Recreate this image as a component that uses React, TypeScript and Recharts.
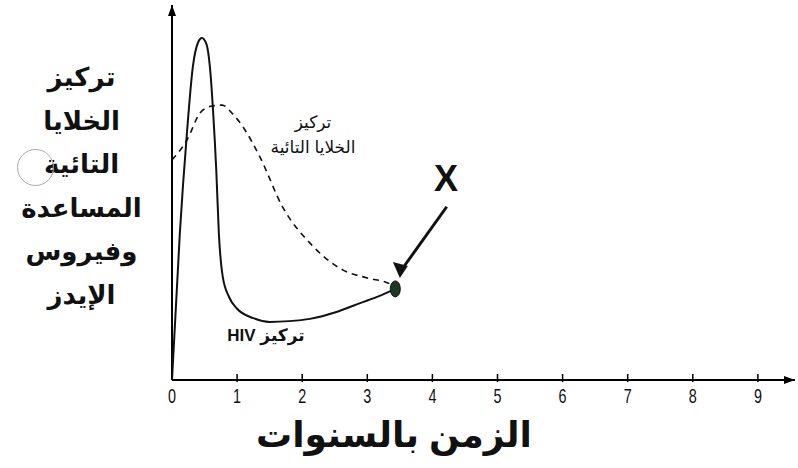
import { LineChart, Line, XAxis, YAxis, ReferenceDot, ReferenceLine } from "recharts";

// time in years / relative concentration
const hivTime = [0, 0.12, 0.23, 0.32, 0.4, 0.46, 0.53, 0.59, 0.63, 0.68, 0.72, 0.78, 0.88, 1.0, 1.25, 1.5, 1.8, 2.12, 2.5, 2.89, 3.2, 3.43];
const hivLevel = [0, 39, 66, 83.5, 90, 91.2, 89.5, 82, 72, 56, 39, 27.5, 22, 19, 16.5, 15.5, 15.7, 16.3, 18, 20.5, 22.5, 24.3];
const tcellTime = [0, 0.23, 0.43, 0.6, 0.77, 0.93, 1.09, 1.35, 1.7, 2.12, 2.63, 3.0, 3.35, 3.43];
const tcellLevel = [58.7, 64, 71.2, 73, 73.3, 71, 67.5, 59.5, 46.1, 36.5, 29.3, 27.2, 25.6, 24.3];
const xTicks = [0, 1, 2, 3, 4, 5, 6, 7, 8, 9];

const hivData = hivTime.map((t, i) => ({ x: t, y: hivLevel[i] }));
const tcellData = tcellTime.map((t, i) => ({ x: t, y: tcellLevel[i] }));

const X_MAX = 9.57;
const Y_MAX = 100;

const font = '"Liberation Sans", Arial, "DejaVu Sans", sans-serif';

function Tick(props: any) {
  const { x, y, payload } = props;
  return (
    <g>
      {payload.value > 0 && <line x1={x} y1={y - 8} x2={x} y2={y} stroke="#000" strokeWidth={1.5} />}
      <text
        transform={`translate(${x}, ${y + 21}) scale(0.72, 1)`}
        textAnchor="middle"
        fontSize={20}
        fontFamily={font}
        fill="#111"
      >
        {payload.value}
      </text>
    </g>
  );
}

export default function App() {
  return (
    <div style={{ position: "absolute", left: 0, top: 0, width: 798, height: 468, background: "#fff", fontFamily: font }}>
      <LineChart width={798} height={468} data={hivData} margin={{ top: 5, right: 3, left: 172, bottom: 58 }}>
        <XAxis
          type="number"
          dataKey="x"
          domain={[0, X_MAX]}
          ticks={xTicks}
          height={30}
          tickLine={false}
          tickSize={0}
          axisLine={{ stroke: "#000", strokeWidth: 2 }}
          tick={<Tick />}
          allowDataOverflow
        />
        <YAxis type="number" domain={[0, Y_MAX]} width={0} tick={false} tickLine={false} axisLine={false} />
        <ReferenceLine x={0} stroke="#000" strokeWidth={2} ifOverflow="visible" />
        <Line data={tcellData} dataKey="y" type="monotone" stroke="#111" strokeWidth={1.6} strokeDasharray="6 5" dot={false} isAnimationActive={false} />
        <Line data={hivData} dataKey="y" type="monotone" stroke="#111" strokeWidth={2} dot={false} isAnimationActive={false} />
        <ReferenceLine segment={[{ x: 4.22, y: 46.2 }, { x: 3.56, y: 30.2 }]} stroke="#111" strokeWidth={3} ifOverflow="visible" />
        <ReferenceDot
          x={3.5}
          y={27.2}
          ifOverflow="visible"
          shape={(p: any) => (
            <polygon
              points={`${p.cx},${p.cy} ${p.cx - 7},${p.cy - 16} ${p.cx + 8},${p.cy - 12}`}
              fill="#111"
            />
          )}
        />
        <ReferenceDot
          x={3.43}
          y={24.3}
          shape={(p: any) => <ellipse cx={p.cx} cy={p.cy} rx={5} ry={8} fill="#1d3a22" stroke="#111" strokeWidth={1} />}
        />
        <ReferenceDot
          x={0}
          y={Y_MAX}
          ifOverflow="visible"
          shape={(p: any) => <polygon points={`${p.cx},${p.cy} ${p.cx - 4},${p.cy + 11} ${p.cx + 4},${p.cy + 11}`} fill="#000" />}
        />
        <ReferenceDot
          x={X_MAX}
          y={0}
          ifOverflow="visible"
          shape={(p: any) => <polygon points={`${p.cx},${p.cy} ${p.cx - 11},${p.cy - 4} ${p.cx - 11},${p.cy + 4}`} fill="#000" />}
        />
      </LineChart>

      <div
        style={{
          position: "absolute",
          left: 0,
          top: 56,
          width: 163,
          textAlign: "center",
          direction: "rtl",
          fontWeight: "bold",
          fontSize: 26,
          lineHeight: "43.5px",
          color: "#111",
        }}
      >
        <div>تركيز</div>
        <div>الخلايا</div>
        <div>التائية</div>
        <div>المساعدة</div>
        <div>وفيروس</div>
        <div>الإيدز</div>
      </div>
      <div
        style={{
          position: "absolute",
          left: 17,
          top: 149,
          width: 35,
          height: 35,
          borderRadius: "50%",
          border: "1.5px solid #aaa",
          background: "transparent",
        }}
      />

      <div style={{ position: "absolute", left: 252, top: 110, width: 122, textAlign: "center", direction: "rtl", fontSize: 17, lineHeight: "25px", color: "#111" }}>
        <div>تركيز</div>
        <div>الخلايا التائية</div>
      </div>
      <div style={{ position: "absolute", left: 211, top: 325, width: 110, textAlign: "center", direction: "rtl", fontSize: 17, fontWeight: "bold", color: "#111" }}>
        تركيز HIV
      </div>
      <div style={{ position: "absolute", left: 434, top: 158, fontSize: 36, fontWeight: "bold", color: "#111" }}>X</div>

      <div style={{ position: "absolute", left: 199, top: 414, width: 390, textAlign: "center", direction: "rtl", fontSize: 36, fontWeight: "bold", color: "#111" }}>
        الزمن بالسنوات
      </div>
    </div>
  );
}
